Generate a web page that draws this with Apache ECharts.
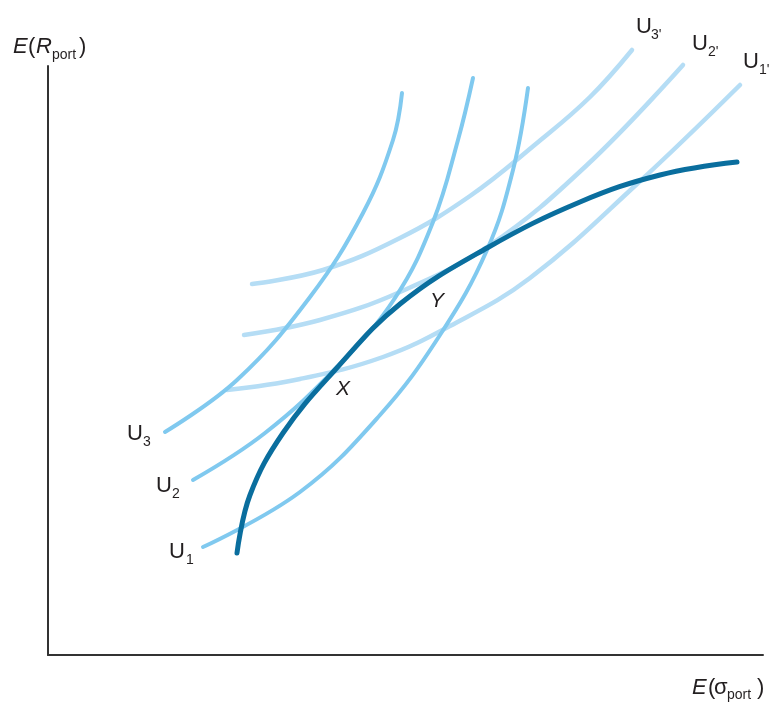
<!DOCTYPE html>
<html>
<head>
<meta charset="utf-8">
<script src="https://cdn.jsdelivr.net/npm/echarts@6/dist/echarts.min.js"></script>
<style>
  html, body { margin: 0; padding: 0; background: #fff; }
  #chart { width: 776px; height: 702px; }
</style>
</head>
<body>
<div id="chart"></div>
<script>
// Points: [risk, return] in the chart's own units
const u1 = [[155,108],[252,163],[332,240],[392,320],[439,405],[465,485],[480,567]];
const u2 = [[145,175],[217,222],[289,288],[347,357],[385,433],[410,515],[425,577]];
const u3 = [[117,223],[189,275],[262,358],[315,442],[345,515],[354,562]];

const u1p = [[179,265],[252,276],[335,298],[402,329],[482,377],[589,471],[692,570]];
const u2p = [[196,320],[272,335],[352,363],[442,410],[539,490],[635,590]];
const u3p = [[204,371],[275,385],[352,417],[422,459],[489,512],[542,558],[584,605]];

const frontier = [[189,102],[202,160],[235,222],[287,285],[352,351],[439,407],[532,453],[612,480],[689,493]];

const xMax = 715;
const yMax = 589;

const steepColor = '#80c9ef';
const flatColor = '#b5ddf5';
const darkColor = '#0a6e9e';
const textColor = '#231f20';
const font = '"Liberation Sans", Arial, sans-serif';

function curve(data, color, width) {
  return {
    type: 'line',
    data: data,
    smooth: 0.4,
    showSymbol: false,
    clip: false,
    silent: true,
    lineStyle: { color: color, width: width, cap: 'round' },
  };
}

// a label made of pieces: [text, x, y, size, italic]
function label(pieces) {
  return pieces.map((p) => ({
    type: 'text',
    x: p[1],
    y: p[2],
    silent: true,
    style: {
      text: p[0],
      fontFamily: font,
      fontSize: p[3],
      fontStyle: p[4] ? 'italic' : 'normal',
      fill: textColor,
      verticalAlign: 'bottom',
    },
  }));
}

const texts = [].concat(
  label([['E', 13, 58, 22, true], ['(', 28, 58, 22, false], ['R', 36, 58, 22, true], ['port', 52, 62, 14, false], [')', 79, 58, 22, false]]),
  label([['E', 692, 699, 22, true], ['(', 708, 699, 22, false], ['σ', 714, 699, 22, false], ['port', 727, 702, 14, false], [')', 757, 699, 22, false]]),
  label([['U', 127, 445, 22, false], ['3', 143, 449, 14, false]]),
  label([['U', 156, 497, 22, false], ['2', 172, 501, 14, false]]),
  label([['U', 169, 563, 22, false], ['1', 186, 567, 14, false]]),
  label([['U', 636, 38, 22, false], ["3'", 651, 42, 14, false]]),
  label([['U', 692, 55, 22, false], ["2'", 708, 59, 14, false]]),
  label([['U', 743, 73, 22, false], ["1'", 759, 77, 14, false]]),
  label([['X', 336, 400, 21, true]]),
  label([['Y', 430, 312, 21, true]])
);

const axisCommon = {
  type: 'value',
  min: 0,
  axisLine: { show: true, lineStyle: { color: '#333', width: 2 } },
  axisTick: { show: false },
  axisLabel: { show: false },
  splitLine: { show: false },
};

const chart = echarts.init(document.getElementById('chart'));
chart.setOption({
  animation: false,
  backgroundColor: '#fff',
  grid: { left: 48, top: 66, width: 715, height: 589 },
  xAxis: Object.assign({}, axisCommon, { max: xMax }),
  yAxis: Object.assign({}, axisCommon, { max: yMax }),
  series: [
    curve(u3p, flatColor, 4.5),
    curve(u2p, flatColor, 4.5),
    curve(u1p, flatColor, 4.5),
    curve(u3, steepColor, 4),
    curve(u2, steepColor, 4),
    curve(u1, steepColor, 4),
    curve(frontier, darkColor, 5),
  ],
  graphic: texts,
});
</script>
</body>
</html>
